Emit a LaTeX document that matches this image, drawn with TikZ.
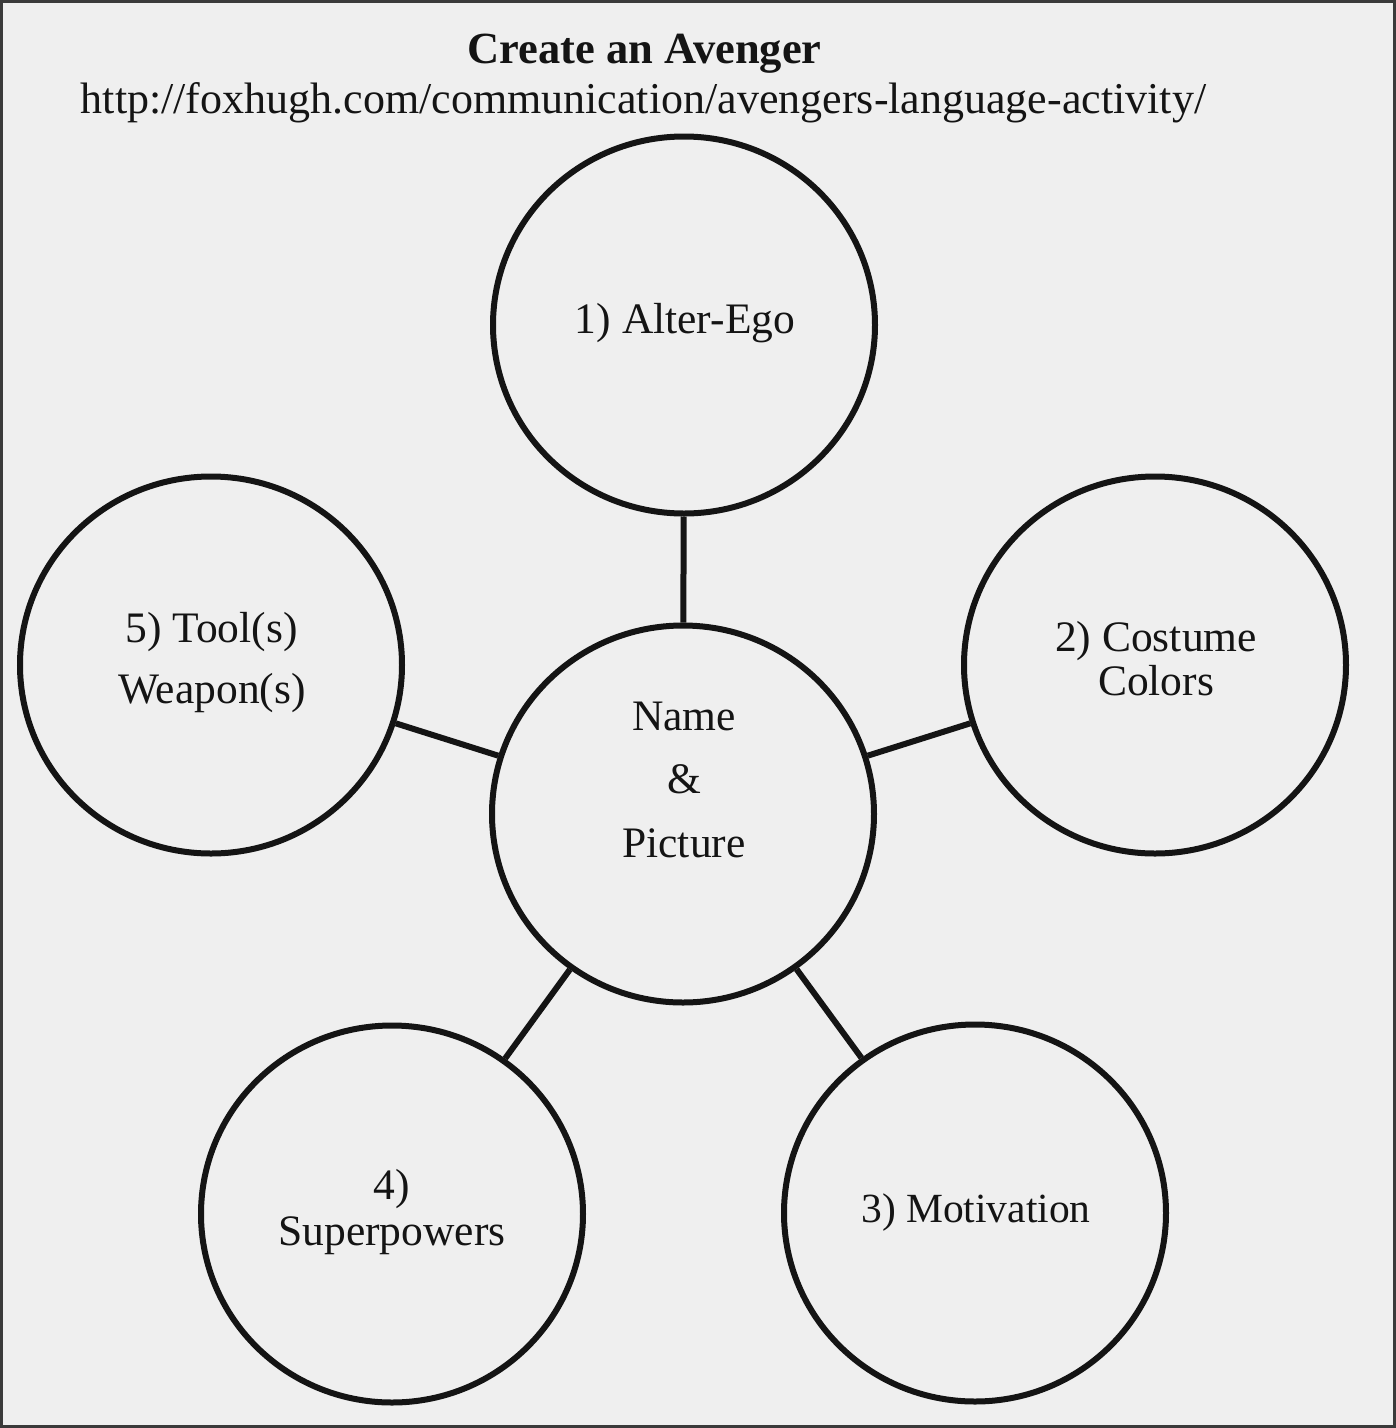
\documentclass[tikz,border=0pt]{standalone}
\usepackage{fontspec}
\setmainfont{Liberation Serif}
\usetikzlibrary{shapes.geometric}
\definecolor{bg}{HTML}{EFEFEF}
\definecolor{ink}{HTML}{141414}
\definecolor{framec}{HTML}{3A3A3A}
\begin{document}
\begin{tikzpicture}[x=1pt,y=-1pt,
  bubble/.style={ellipse, draw=ink, line width=6pt, minimum width=382pt, minimum height=377pt, inner sep=0pt},
  link/.style={draw=ink, line width=6pt},
  lbl/.style={anchor=base, text=ink, inner sep=0pt, font=\fontsize{43.5}{50}\selectfont}]
\useasboundingbox (0,0) rectangle (1396,1428);
\fill[bg] (0,0) rectangle (1396,1428);
\draw[framec, line width=6pt] (0,0) rectangle (1396,1428);
% bubbles
\node[bubble] (alter) at (684,325) {};
\node[bubble] (ctr) at (683,814) {};
\node[bubble] (tool) at (211,665) {};
\node[bubble] (costume) at (1155,665) {};
\node[bubble] (super) at (392,1214) {};
\node[bubble] (motiv) at (975,1213) {};
% connectors
\draw[link] (ctr) -- (alter);
\draw[link] (ctr) -- (tool);
\draw[link] (ctr) -- (costume);
\draw[link] (ctr) -- (super);
\draw[link] (ctr) -- (motiv);
% texts
\node[lbl, font=\fontsize{44.5}{50}\selectfont\bfseries] (title) at (644.5,63) {Create an Avenger};
\node[lbl, font=\fontsize{44}{50}\selectfont] (url) at (643.5,113) {http://foxhugh.com/communication/avengers-language-activity/};
\node[lbl] (t1) at (685,333) {1) Alter-Ego};
\node[lbl] (t2a) at (1156,651) {2) Costume};
\node[lbl] (t2b) at (1156,695) {Colors};
\node[lbl] (t5a) at (211.5,642) {5) Tool(s)};
\node[lbl] (t5b) at (212,703) {Weapon(s)};
\node[lbl] (t4a) at (392,1199) {4)};
\node[lbl] (t4b) at (392,1245) {Superpowers};
\node[lbl, font=\fontsize{41.5}{50}\selectfont] (t3) at (976,1222) {3) Motivation};
\node[lbl] (tna) at (684,730) {Name};
\node[lbl] (tnb) at (684,793) {\&};
\node[lbl] (tnc) at (684,857) {Picture};
\end{tikzpicture}
\end{document}
